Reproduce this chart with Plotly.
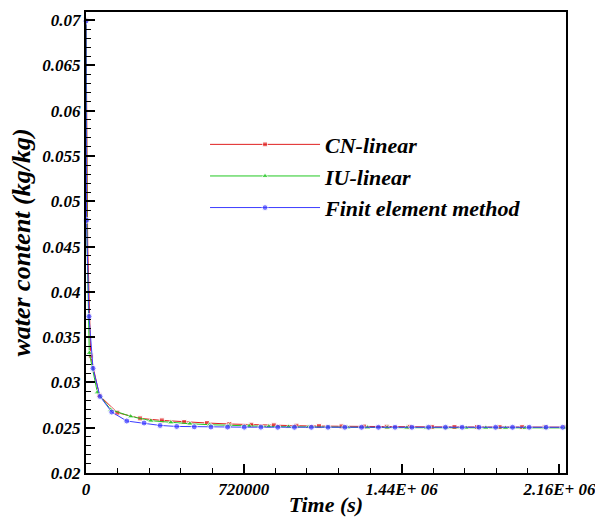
import plotly.graph_objects as go

# CN-linear
cn_t = [0, 8000, 21500, 60800, 143000, 247000, 346000, 448000, 552000, 654000, 754000,
        857000, 960000, 1063000, 1166000, 1269000, 1372000, 1475000, 1578000, 1681000,
        1784000, 1887000, 1990000, 2093000, 2188000]
cn_w = [0.0700, 0.0450, 0.03295, 0.02857, 0.02666, 0.02603, 0.02581, 0.02563, 0.02552, 0.02541, 0.02533,
        0.02527, 0.02522, 0.02518, 0.02515, 0.02513, 0.02511, 0.02510, 0.02509, 0.02508,
        0.02508, 0.02507, 0.02507, 0.02507, 0.02506]

# IU-linear
iu_t = [0, 5000, 15000, 51700, 113000, 204000, 296000, 387000, 474000, 564000, 654000, 744000,
        834000, 924000, 1014000, 1104000, 1194000, 1284000, 1374000, 1464000, 1554000, 1644000,
        1734000, 1824000, 1914000, 2004000, 2094000, 2188000]
iu_w = [0.0700, 0.0450, 0.03325, 0.02890, 0.02699, 0.02625, 0.02577, 0.02558, 0.02544, 0.02533, 0.02525, 0.02519,
        0.02514, 0.02510, 0.02507, 0.02505, 0.02503, 0.02502, 0.02501, 0.02500, 0.02500, 0.02499,
        0.02499, 0.02499, 0.02498, 0.02498, 0.02498, 0.02498]

# Finite element method
fe_t = [0, 1000, 2500, 13700, 32000, 64000, 117500, 186000, 265000, 338000, 414000, 494000, 570000,
        646000, 722000, 798000, 875000, 951000, 1028000, 1104000, 1181000, 1257000, 1334000, 1410000,
        1487000, 1563000, 1640000, 1716000, 1793000, 1869000, 1946000, 2022000, 2099000, 2175000]
fe_w = [0.0699, 0.0560, 0.0479, 0.03728, 0.03155, 0.02845, 0.02673, 0.02574, 0.02552, 0.02525, 0.02514, 0.02510, 0.02508,
        0.02507, 0.02506, 0.02506, 0.02505, 0.02505, 0.02505, 0.02505, 0.02505, 0.02505, 0.02505, 0.02505,
        0.02505, 0.02505, 0.02505, 0.02505, 0.02505, 0.02505, 0.02505, 0.02505, 0.02505, 0.02505]

x_tickvals = [0, 720000, 1440000, 2160000]
x_ticktext = ["0", "720000", "1.44E+ 06", "2.16E+ 06"]
y_tickvals = [0.02, 0.025, 0.03, 0.035, 0.04, 0.045, 0.05, 0.055, 0.06, 0.065, 0.07]
y_ticktext = ["0.02", "0.025", "0.03", "0.035", "0.04", "0.045", "0.05", "0.055", "0.06", "0.065", "0.07"]

FONT = "Liberation Serif"

# marker sizes: no symbol on the unmarked intermediate points (symbol skipping)
cn_ms = [5] * len(cn_t); cn_ms[1] = 0
iu_ms = [6] * len(iu_t); iu_ms[1] = 0
fe_ms = [6] * len(fe_t); fe_ms[1] = 0

fig = go.Figure()
fig.add_trace(go.Scatter(x=cn_t, y=cn_w, name="CN-linear", mode="lines+markers",
                         line=dict(color="#e02020", width=1),
                         marker=dict(symbol="square", size=cn_ms, color="#e02020"),
                         cliponaxis=False))
fig.add_trace(go.Scatter(x=iu_t, y=iu_w, name="IU-linear", mode="lines+markers",
                         line=dict(color="#22c822", width=1),
                         marker=dict(symbol="triangle-up", size=iu_ms, color="#22c822"),
                         cliponaxis=False))
fig.add_trace(go.Scatter(x=fe_t, y=fe_w, name="Finit element method", mode="lines+markers",
                         line=dict(color="#3c3cff", width=1),
                         marker=dict(symbol="circle", size=fe_ms, color="#3c3cff"),
                         cliponaxis=False))

axis_font = dict(family=FONT, size=17, color="black", weight="bold", style="italic")
xtitle_font = dict(family=FONT, size=22, color="black", weight="bold", style="italic")
ytitle_font = dict(family=FONT, size=26, color="black", weight="bold", style="italic")

fig.update_layout(
    width=595, height=517,
    margin=dict(l=86, r=29, t=12, b=44),
    paper_bgcolor="white", plot_bgcolor="white",
    showlegend=True,
    legend=dict(x=0.248, y=0.758, xanchor="left", yanchor="top",
                bgcolor="rgba(0,0,0,0)", itemwidth=110,
                font=dict(family=FONT, size=22, color="black", weight="bold", style="italic"),
                tracegroupgap=0),
    xaxis=dict(range=[0, 2190000], showgrid=False, zeroline=False, automargin=False,
               showline=True, linecolor="black", linewidth=2, mirror=True,
               ticks="inside", ticklen=9, tickwidth=1.5, tickcolor="black",
               tickvals=x_tickvals, ticktext=x_ticktext, tickfont=axis_font,
               ticklabeloverflow="allow",
               minor=dict(dtick=144000, tick0=0, ticks="inside", ticklen=5, tickwidth=1, tickcolor="black"),
               title=dict(text="Time (s)", font=xtitle_font, standoff=0)),
    yaxis=dict(range=[0.02, 0.0709], showgrid=False, zeroline=False, automargin=False,
               showline=True, linecolor="black", linewidth=2, mirror=True,
               ticks="inside", ticklen=9, tickwidth=1.5, tickcolor="black",
               tickvals=y_tickvals, ticktext=y_ticktext, tickfont=axis_font,
               minor=dict(dtick=0.001, tick0=0, ticks="inside", ticklen=5, tickwidth=1, tickcolor="black"),
               title=dict(text="water content (kg/kg)", font=ytitle_font, standoff=4)),
)

fig.write_html("out.html", config={"displayModeBar": False},
               post_script="document.body.style.margin='0px';")
